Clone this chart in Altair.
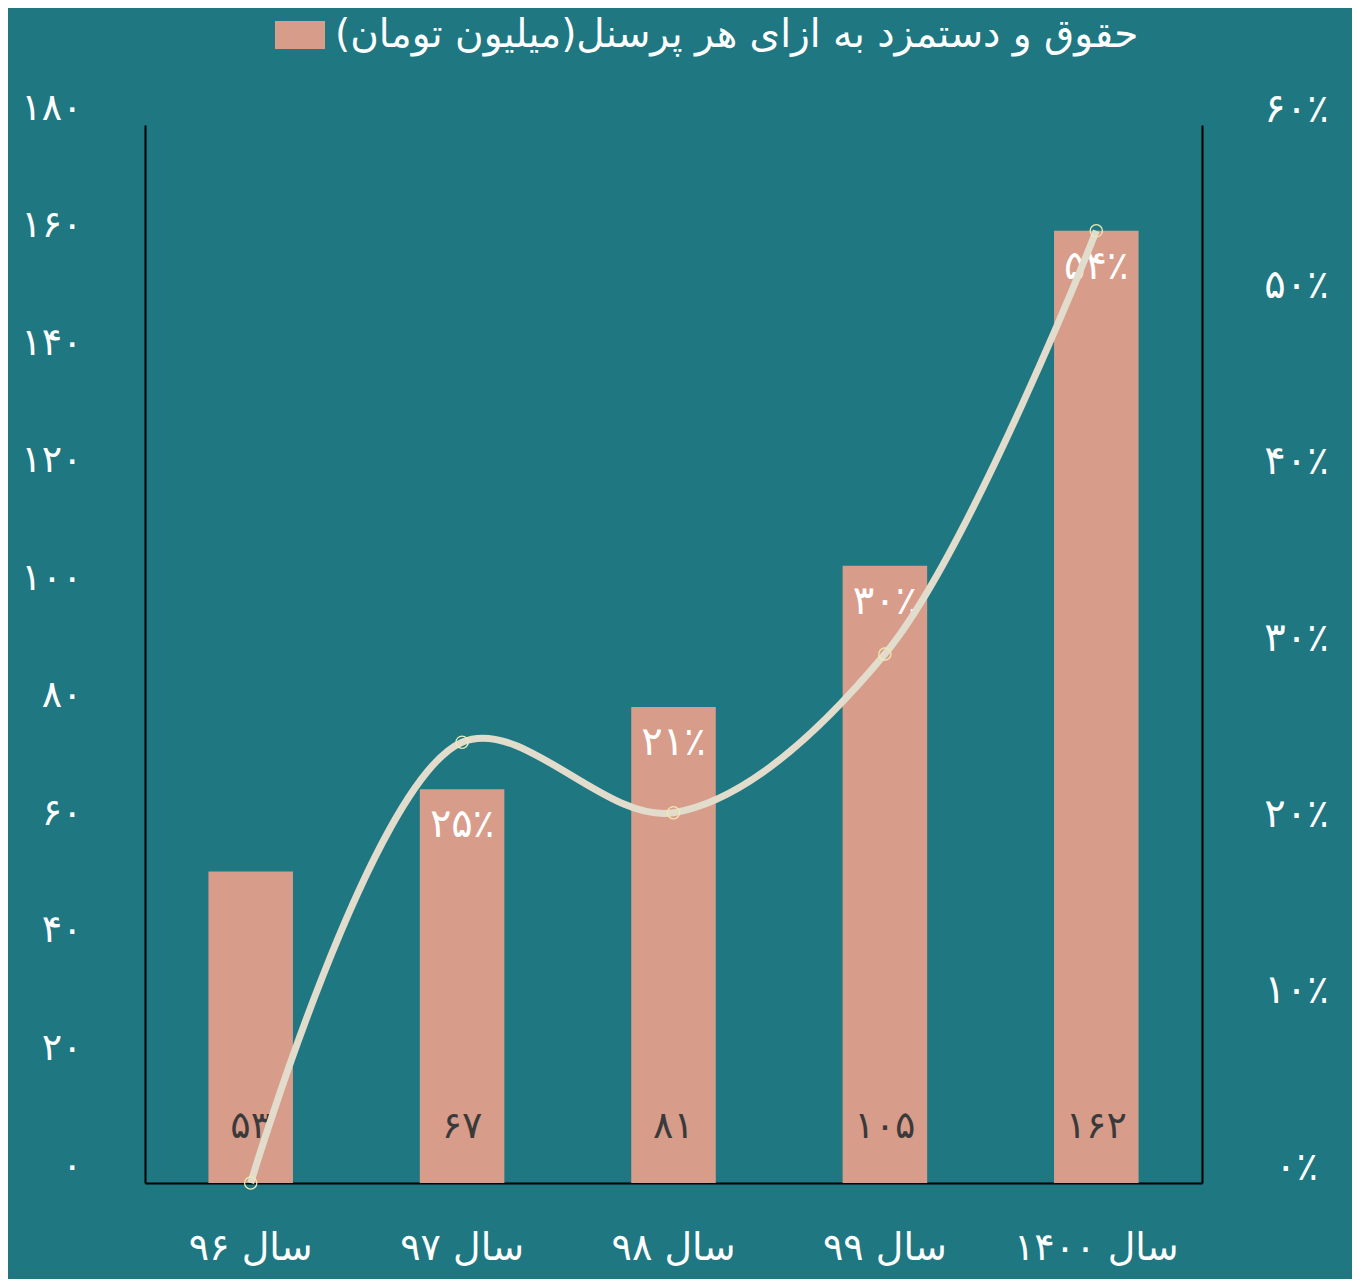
import altair as alt
import pandas as pd

# ---- data ----
years = ["سال ۹۶", "سال ۹۷", "سال ۹۸", "سال ۹۹", "سال ۱۴۰۰"]
salary = [53, 67, 81, 105, 162]
growth = [0.00, 0.25, 0.21, 0.30, 0.54]
salary_labels = ["۵۳", "۶۷", "۸۱", "۱۰۵", "۱۶۲"]
growth_labels = ["", "۲۵٪", "۲۱٪", "۳۰٪", "۵۴٪"]
left_ticks = [0, 20, 40, 60, 80, 100, 120, 140, 160, 180]
left_tick_labels = ["۰", "۲۰", "۴۰", "۶۰", "۸۰", "۱۰۰", "۱۲۰", "۱۴۰", "۱۶۰", "۱۸۰"]
right_ticks = [0, 0.1, 0.2, 0.3, 0.4, 0.5, 0.6]
right_tick_labels = ["۰٪", "۱۰٪", "۲۰٪", "۳۰٪", "۴۰٪", "۵۰٪", "۶۰٪"]
series_name = "حقوق و دستمزد به ازای هر پرسنل(میلیون تومان)\u200f"

BG = "#1e7781"
BAR = "#d79c8a"
LINE = "#e1dccb"
MARKER = "#f1eab4"
FONT = "DejaVu Sans"

df = pd.DataFrame({
    "year": years,
    "salary": salary,
    "growth": growth,
    "salary_label": salary_labels,
    "growth_label": growth_labels,
    "series": [series_name] * len(years),
})

def arr(lst):
    return "[" + ",".join("'" + s + "'" for s in lst) + "]"

x_enc = alt.X(
    "year:N", sort=years, title=None,
    scale=alt.Scale(paddingInner=0.6, paddingOuter=0.3),
    axis=alt.Axis(labelAngle=0, labelColor="white", labelFontSize=38, labelFont=FONT,
                  labelPadding=46, ticks=False, domainColor="black", domainWidth=2,
                  grid=False),
)

left_axis = alt.Axis(orient="left", values=left_ticks,
                     labelExpr=arr(left_tick_labels) + "[round(datum.value/20)]",
                     labelColor="white", labelFontSize=38, labelFont=FONT,
                     labelPadding=63, labelOffset=-17, ticks=False, grid=False,
                     domainColor="black", domainWidth=2, title=None)

def y_left(field):
    return alt.Y(field, title=None, scale=alt.Scale(domain=[0, 180]), axis=left_axis)

base = alt.Chart(df)

bars = base.mark_bar().encode(
    x=x_enc,
    y=y_left("salary:Q"),
    color=alt.Color("series:N", title=None,
                    scale=alt.Scale(range=[BAR]),
                    legend=alt.Legend(orient="none", legendX=130, legendY=-115,
                                      direction="horizontal",
                                      labelColor="white", labelFontSize=39, labelFont=FONT,
                                      labelLimit=1200,
                                      symbolType="M-1,-0.56H1V0.56H-1Z",
                                      symbolSize=2500, symbolStrokeWidth=0,
                                      symbolOpacity=1, labelOffset=10)),
)

value_text = base.mark_text(color="#3a3a3a", fontSize=38, font=FONT, dy=-56,
                            baseline="middle").encode(
    x=alt.X("year:N", sort=years),
    y=y_left("zero:Q"),
    text="salary_label:N",
).transform_calculate(zero="0")

pct_text = base.mark_text(color="white", fontSize=40, font=FONT,
                          dy=36, baseline="middle").encode(
    x=alt.X("year:N", sort=years),
    y=y_left("salary:Q"),
    text="growth_label:N",
)

left = alt.layer(bars, value_text, pct_text)

y_right = alt.Y(
    "growth:Q", title=None, scale=alt.Scale(domain=[0, 0.6]),
    axis=alt.Axis(orient="right", values=right_ticks,
                  labelExpr=arr(right_tick_labels) + "[round(datum.value*10)]",
                  labelColor="white", labelFontSize=40, labelFont=FONT,
                  labelAlign="center", labelPadding=94, labelOffset=-16,
                  ticks=False, grid=False, domainColor="black", domainWidth=2),
)

line = base.mark_line(color=LINE, strokeWidth=7, interpolate="catmull-rom").encode(
    x=alt.X("year:N", sort=years),
    y=y_right,
)
points = base.mark_point(shape="circle", filled=False, stroke=MARKER, strokeWidth=1.3,
                         size=150, opacity=1).encode(
    x=alt.X("year:N", sort=years),
    y=alt.Y("growth:Q", scale=alt.Scale(domain=[0, 0.6])),
)
right = alt.layer(line, points)

chart = alt.layer(left, right).resolve_scale(y="independent").properties(
    width=1057, height=1058,
    background=BG,
    autosize=alt.AutoSizeParams(type="none"),
    padding={"left": 137, "top": 117, "right": 150, "bottom": 96},
).configure_view(stroke=None)

chart.save("out.html", embed_options={"renderer": "svg", "actions": False})
